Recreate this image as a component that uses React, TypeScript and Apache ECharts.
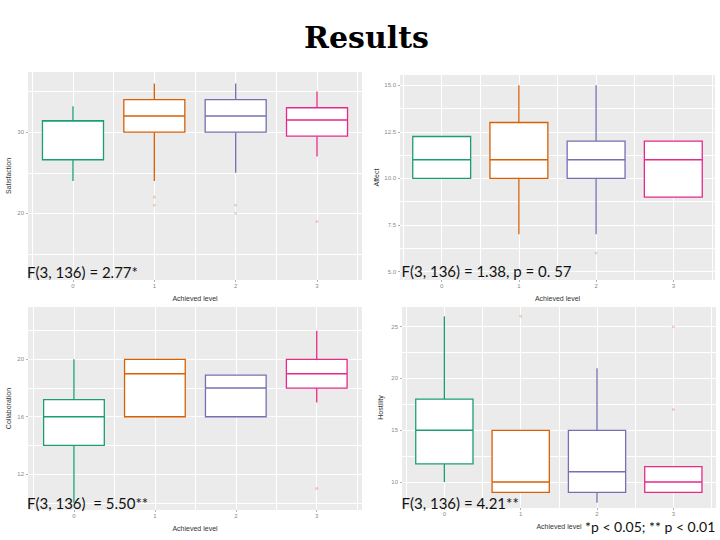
import React, { useEffect, useRef } from 'react';
import * as echarts from 'echarts';

// ---------- data ----------
const levels = ['0', '1', '2', '3'];
const colors = ['#1b9e77', '#d95f02', '#7570b3', '#e7298a'];

// each box: [lower whisker, Q1, median, Q3, upper whisker]
const satisfactionBoxes = [
  [24, 26.6, 31.4, 31.4, 33.2],
  [24, 30, 32, 34, 36],
  [25, 30, 32, 34, 36],
  [27, 29.5, 31.5, 33, 35],
];
const satisfactionOutliers = [[1, 22], [1, 21], [2, 21], [2, 20], [3, 19]];
const satisfactionTicks = [20, 30];
const satisfactionGridVals = [15, 20, 25, 30, 35];

const affectBoxes = [
  [10, 10, 11, 12.25, 12.25],
  [7, 10, 11, 13, 15],
  [7, 10, 11, 12, 15],
  [9, 9, 11, 12, 12],
];
const affectOutliers = [[2, 6]];
const affectTicks = [5, 7.5, 10, 12.5, 15];
const affectGridVals = [5, 6.25, 7.5, 8.75, 10, 11.25, 12.5, 13.75, 15];

const collaborationBoxes = [
  [10, 14, 16, 17.2, 20],
  [16, 16, 19, 20, 20],
  [16, 16, 18, 18.9, 18.9],
  [17, 18, 19, 20, 22],
];
const collaborationOutliers = [[3, 11]];
const collaborationTicks = [12, 16, 20];
const collaborationGridVals = [10, 12, 14, 16, 18, 20, 22];

const hostilityBoxes = [
  [10, 11.75, 15, 18, 26],
  [9, 9, 10, 15, 15],
  [8, 9, 11, 15, 21],
  [9, 9, 10, 11.5, 11.5],
];
const hostilityOutliers = [[1, 26], [3, 25], [3, 17]];
const hostilityTicks = [10, 15, 20, 25];
const hostilityGridVals = [7.5, 10, 12.5, 15, 17.5, 20, 22.5, 25];

const notes = [
  'F(3, 136) = 2.77*',
  'F(3, 136) = 1.38, p = 0. 57',
  'F(3, 136)  = 5.50**',
  'F(3, 136) = 4.21**',
];
const footnote = '*p < 0.05; ** p < 0.01';
const xTitle = 'Achieved level';

// ---------- layout ----------
const panels = [
  { yName: 'Satisfaction', boxes: satisfactionBoxes, outliers: satisfactionOutliers, ticks: satisfactionTicks, gridVals: satisfactionGridVals, dec: 0,
    yMin: 11.8, yMax: 37.4, l: 28, t: 72, r: 362, b: 280, il: 32.3, ir: 357.7, yGap: 16, note: notes[0], nx: 27, ny: 271.5 },
  { yName: 'Affect', boxes: affectBoxes, outliers: affectOutliers, ticks: affectTicks, gridVals: affectGridVals, dec: 1,
    yMin: 4.55, yMax: 15.55, l: 400, t: 75, r: 715, b: 280, il: 403.1, ir: 711.9, yGap: 20, note: notes[1], nx: 401.5, ny: 271 },
  { yName: 'Collaboration', boxes: collaborationBoxes, outliers: collaborationOutliers, ticks: collaborationTicks, gridVals: collaborationGridVals, dec: 0,
    yMin: 9.5, yMax: 23.65, l: 28, t: 307, r: 362, b: 510, il: 33.5, ir: 357.2, yGap: 16, note: notes[2], nx: 27, ny: 503 },
  { yName: 'Hostility', boxes: hostilityBoxes, outliers: hostilityOutliers, ticks: hostilityTicks, gridVals: hostilityGridVals, dec: 0,
    yMin: 7.5, yMax: 26.9, l: 402, t: 307, r: 716, b: 508, il: 406.2, ir: 711.5, yGap: 18, note: notes[3], nx: 401.5, ny: 503 },
];

function buildOption() {
  const grid: any[] = [];
  const xAxis: any[] = [];
  const yAxis: any[] = [];
  const series: any[] = [];
  const graphic: any[] = [];

  const labelStyle = { fontSize: 6, color: '#8a8a8a', fontFamily: 'Liberation Sans' };
  const nameStyle = { fontSize: 7, color: '#333', fontFamily: 'Liberation Sans' };
  const noLine = { show: false, onZero: false };

  panels.forEach((p) => {
    const n = levels.length;
    const band = (p.ir - p.il) / n;
    const xMin = -0.5 - (p.il - p.l) / band;
    const xMax = n - 0.5 + (p.r - p.ir) / band;
    const gA = grid.length;
    grid.push({ left: p.l, top: p.t, width: p.r - p.l, height: p.b - p.t, show: true, backgroundColor: '#ebebeb', borderWidth: 0 });
    const gB = grid.length;
    grid.push({ left: p.il, top: p.t, width: p.ir - p.il, height: p.b - p.t, show: false });

    const xGridVals: number[] = [];
    levels.forEach((_, k) => { xGridVals.push(k - 0.5, k); });
    xGridVals.push(n - 0.5);
    const catVals = levels.map((_, k) => k);

    const xi = xAxis.length;
    xAxis.push({
      type: 'value', gridIndex: gA, min: xMin, max: xMax, position: 'bottom',
      axisLine: noLine, axisTick: { show: false, customValues: xGridVals }, axisLabel: { show: false },
      splitLine: { show: true, lineStyle: { color: '#ffffff', width: 1 } },
    });
    xAxis.push({
      type: 'value', gridIndex: gA, min: xMin, max: xMax, position: 'bottom',
      axisLine: noLine,
      axisTick: { show: true, customValues: catVals, length: 2, lineStyle: { color: '#b0b0b0' } },
      axisLabel: { show: true, customValues: catVals, formatter: (v: number) => levels[Math.round(v)], margin: 3, ...labelStyle },
      splitLine: { show: false },
      name: xTitle, nameLocation: 'middle', nameGap: 15, nameTextStyle: nameStyle,
    });
    xAxis.push({ type: 'category', gridIndex: gB, data: levels, show: false, axisLine: noLine });

    const yi = yAxis.length;
    yAxis.push({
      type: 'value', gridIndex: gA, min: p.yMin, max: p.yMax, position: 'left',
      axisLine: noLine, axisTick: { show: false, customValues: p.gridVals }, axisLabel: { show: false },
      splitLine: { show: true, lineStyle: { color: '#ffffff', width: 1 } },
    });
    yAxis.push({
      type: 'value', gridIndex: gA, min: p.yMin, max: p.yMax, position: 'left',
      axisLine: noLine,
      axisTick: { show: true, customValues: p.ticks, length: 2, lineStyle: { color: '#b0b0b0' } },
      axisLabel: { show: true, customValues: p.ticks, formatter: (v: number) => v.toFixed(p.dec), margin: 4, ...labelStyle },
      splitLine: { show: false },
      name: p.yName, nameLocation: 'middle', nameGap: p.yGap, nameTextStyle: nameStyle,
    });
    yAxis.push({ type: 'value', gridIndex: gB, min: p.yMin, max: p.yMax, show: false, axisLine: noLine });

    series.push({
      type: 'custom', xAxisIndex: xi + 2, yAxisIndex: yi + 2,
      data: p.boxes.map((bx, k) => [k, ...bx]),
      encode: { x: 0, y: [1, 2, 3, 4, 5] },
      z: 3,
      renderItem: (params: any, api: any) => {
        const k = params.dataIndex;
        const c = colors[k];
        const x = api.value(0);
        const lo = api.coord([x, api.value(1)]);
        const q1 = api.coord([x, api.value(2)]);
        const md = api.coord([x, api.value(3)]);
        const q3 = api.coord([x, api.value(4)]);
        const hi = api.coord([x, api.value(5)]);
        const bw = api.size([1, 0])[0] * 0.75;
        const cx = q1[0];
        const ls = { stroke: c, lineWidth: 1.3 };
        return {
          type: 'group',
          children: [
            { type: 'line', shape: { x1: cx, y1: hi[1], x2: cx, y2: q3[1] }, style: ls },
            { type: 'line', shape: { x1: cx, y1: q1[1], x2: cx, y2: lo[1] }, style: ls },
            { type: 'rect', shape: { x: cx - bw / 2, y: q3[1], width: bw, height: q1[1] - q3[1] }, style: { fill: '#ffffff', stroke: c, lineWidth: 1.3 } },
            { type: 'line', shape: { x1: cx - bw / 2, y1: md[1], x2: cx + bw / 2, y2: md[1] }, style: { stroke: c, lineWidth: 1.5 } },
          ],
        };
      },
    });
    series.push({
      type: 'scatter', xAxisIndex: xi + 2, yAxisIndex: yi + 2, symbolSize: 3, z: 3,
      data: p.outliers.map((o) => ({ value: o, itemStyle: { color: colors[o[0]], opacity: 0.25 } })),
    });

    graphic.push({
      type: 'text', x: p.nx, y: p.ny, z: 10,
      style: { text: p.note, fill: '#111', fontSize: 15, fontFamily: 'Lato', align: 'left', verticalAlign: 'middle' },
    });
  });

  graphic.push({
    type: 'text', x: 366.5, y: 37, z: 10,
    style: { text: 'Results', fill: '#000', fontSize: 30, fontWeight: 'bold', fontFamily: 'DejaVu Serif', align: 'center', verticalAlign: 'middle' },
  });
  graphic.push({
    type: 'text', x: 585, y: 526.5, z: 10,
    style: { text: footnote, fill: '#111', fontSize: 14, fontFamily: 'Lato', align: 'left', verticalAlign: 'middle' },
  });

  return { animation: false, backgroundColor: '#ffffff', grid, xAxis, yAxis, series, graphic };
}

export default function App() {
  const ref = useRef<HTMLDivElement>(null);
  useEffect(() => {
    const chart = echarts.init(ref.current as HTMLDivElement, null, { renderer: 'svg' });
    chart.setOption(buildOption() as any);
    return () => chart.dispose();
  }, []);
  return <div ref={ref} style={{ position: 'fixed', left: 0, top: 0, width: 720, height: 540, background: '#fff' }} />;
}
